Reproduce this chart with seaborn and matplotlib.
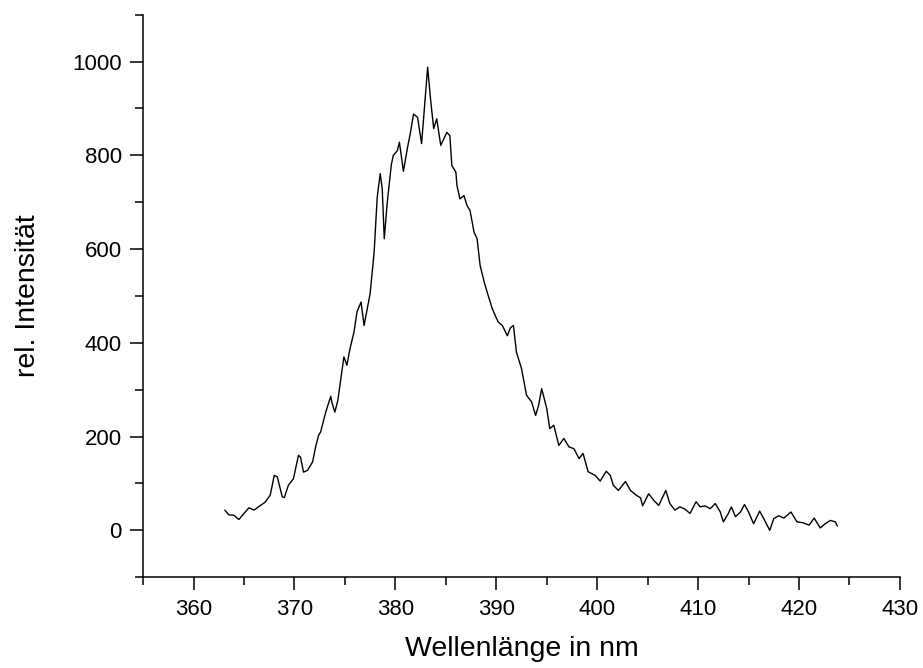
import numpy as np
import pandas as pd
import seaborn as sns
import matplotlib
matplotlib.use("Agg")
import matplotlib.pyplot as plt
from matplotlib.ticker import MultipleLocator

# Wellenlänge (nm) und rel. Intensität
wellenlaenge = [
    363.1, 363.5, 364.0, 364.5, 365.0, 365.5, 366.0, 366.5, 367.1, 367.6,
    368.0, 368.3, 368.8, 369.0, 369.4, 369.9, 370.4, 370.6, 370.9, 371.3,
    371.8, 372.1, 372.4, 372.6, 373.1, 373.6, 373.7, 374.0, 374.3, 374.6,
    374.9, 375.2, 375.5, 375.9, 376.2, 376.6, 376.9, 377.5, 377.9, 378.2,
    378.5, 378.7, 378.9, 379.2, 379.6, 379.8, 380.2, 380.4, 380.8, 381.2,
    381.5, 381.8, 382.2, 382.6, 383.0, 383.2, 383.5, 383.8, 384.1, 384.5,
    384.8, 385.1, 385.4, 385.6, 386.0, 386.1, 386.4, 386.8, 387.1, 387.4,
    387.8, 388.1, 388.4, 388.8, 389.1, 389.6, 389.9, 390.2, 390.6, 391.1,
    391.4, 391.7, 392.0, 392.5, 393.0, 393.5, 393.9, 394.2, 394.5, 395.0,
    395.3, 395.7, 396.2, 396.7, 397.2, 397.7, 398.2, 398.6, 399.1, 399.8,
    400.3, 400.9, 401.3, 401.6, 402.1, 402.8, 403.3, 403.8, 404.3, 404.5,
    405.1, 405.6, 406.1, 406.8, 407.2, 407.7, 408.2, 408.7, 409.2, 409.8,
    410.2, 410.7, 411.2, 411.7, 412.2, 412.5, 413.0, 413.3, 413.7, 414.2,
    414.6, 415.0, 415.5, 416.1, 416.5, 417.1, 417.5, 418.0, 418.5, 419.2,
    419.8, 420.4, 421.0, 421.5, 422.1, 422.6, 423.1, 423.6, 423.8,
]
intensitaet = [
    43, 33, 32, 23, 36, 48, 43, 51, 60, 75,
    117, 114, 71, 70, 96, 110, 160, 156, 124, 128,
    146, 178, 203, 210, 252, 286, 274, 252, 277, 323,
    370, 352, 387, 423, 466, 487, 437, 505, 594, 710,
    761, 729, 622, 700, 780, 800, 810, 828, 766, 816,
    849, 888, 881, 825, 935, 988, 917, 857, 878, 821,
    835, 849, 842, 778, 764, 736, 707, 714, 693, 682,
    636, 622, 565, 530, 508, 473, 458, 444, 437, 415,
    432, 437, 380, 345, 288, 274, 245, 267, 302, 260,
    217, 224, 181, 196, 178, 174, 153, 164, 125, 117,
    105, 126, 117, 96, 85, 104, 85, 76, 69, 52,
    78, 64, 53, 85, 57, 43, 50, 45, 36, 61,
    50, 52, 46, 57, 39, 18, 36, 50, 29, 39,
    55, 39, 14, 41, 25, 0, 25, 31, 26, 39,
    18, 16, 11, 26, 5, 14, 21, 18, 9,
]

df = pd.DataFrame({"nm": wellenlaenge, "I": intensitaet})

sns.set_style("ticks")
plt.rcParams['font.family'] = ['Liberation Sans', 'DejaVu Sans']

fig = plt.figure(figsize=(9.23, 6.68), dpi=100)
ax = fig.add_axes([0.155, 0.136, 0.82, 0.842])

sns.lineplot(data=df, x="nm", y="I", color="black", linewidth=1.0, ax=ax,
             sort=False, estimator=None)

ax.set_xlim(355, 430)
ax.xaxis.set_major_locator(MultipleLocator(10))
ax.xaxis.set_minor_locator(MultipleLocator(5))
ax.yaxis.set_minor_locator(MultipleLocator(100))
ax.set_yticks([0, 200, 400, 600, 800, 1000])
ax.set_ylim(-100, 1100)

for s in ["top", "right"]:
    ax.spines[s].set_visible(False)
for s in ["left", "bottom"]:
    ax.spines[s].set_linewidth(1.1)
    ax.spines[s].set_color("black")

ax.tick_params(which="major", direction="out", length=9.4, width=1.1,
               labelsize=16, pad=6, colors="black")
ax.tick_params(which="minor", direction="out", length=5.8, width=1.1, colors="black")

ax.set_xlabel("Wellenlänge in nm", fontsize=20.5, labelpad=12, color="black")
ax.set_ylabel("rel. Intensität", fontsize=20.5, labelpad=22, color="black")

fig.savefig("out.png", dpi=100)
